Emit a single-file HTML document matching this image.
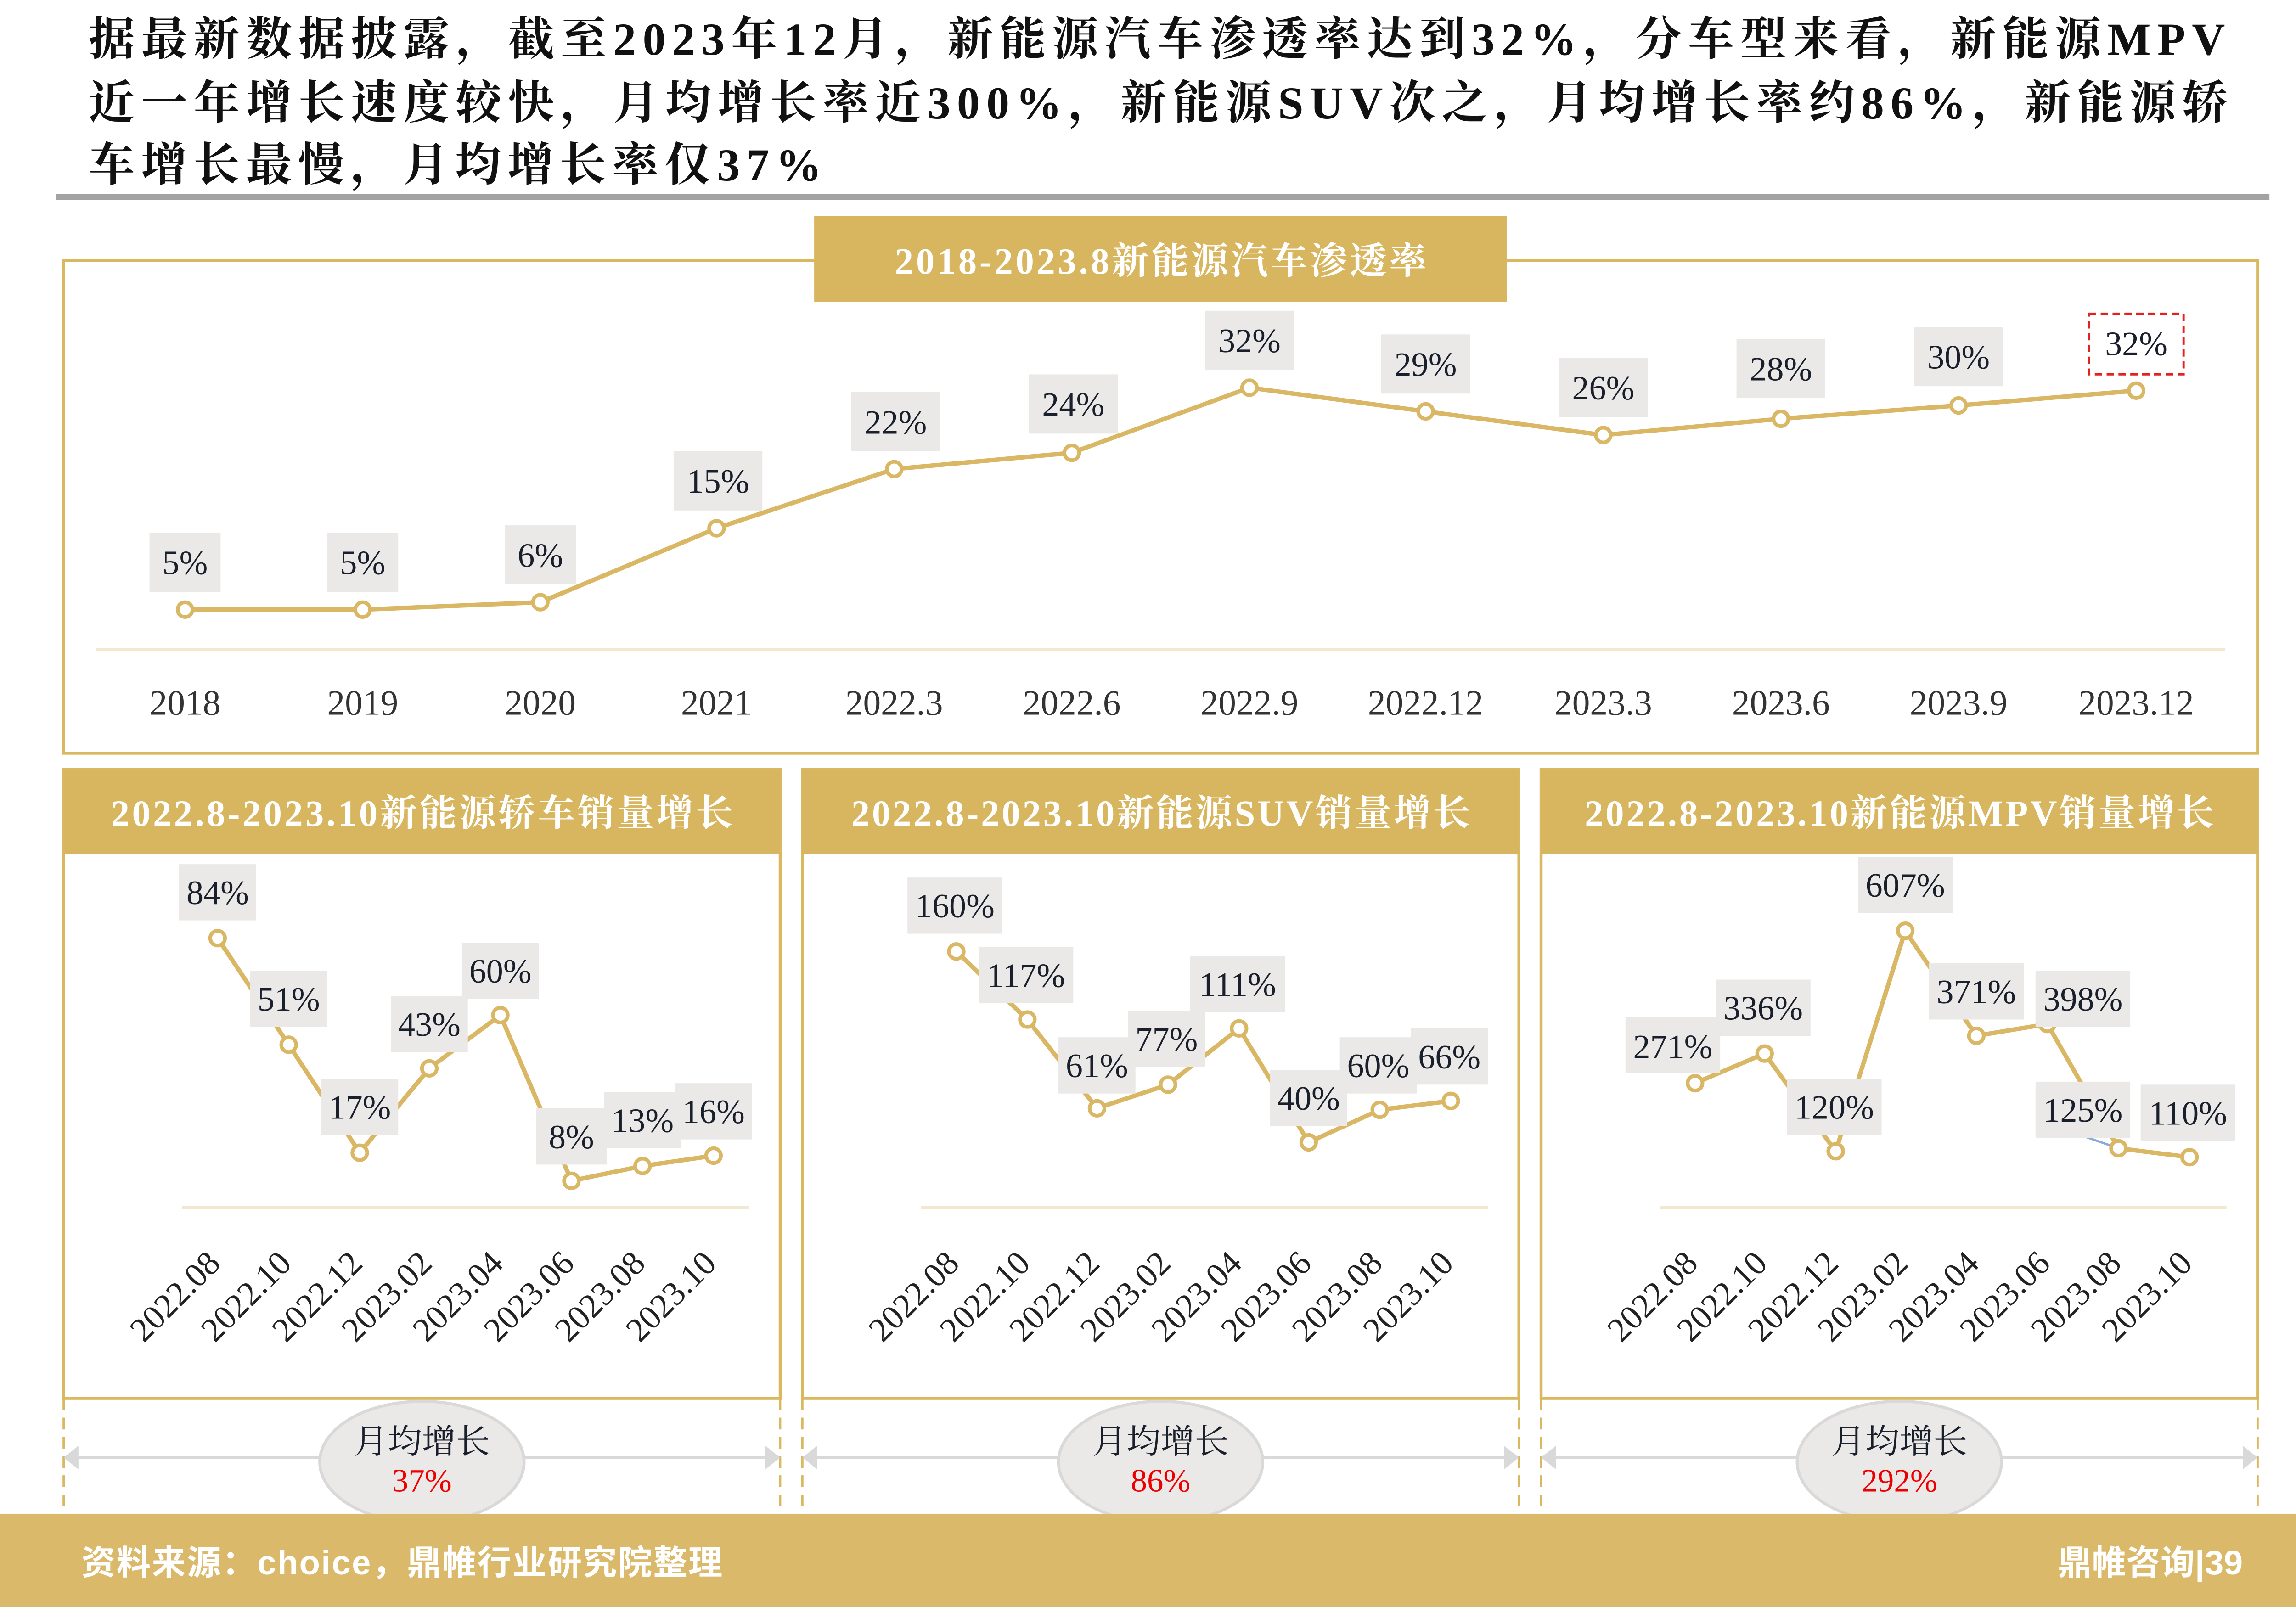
<!DOCTYPE html>
<html><head><meta charset="utf-8"><style>
html,body{margin:0;padding:0;background:#fff}
svg{display:block}
.s{font-family:"Liberation Serif","Noto Serif CJK SC",serif}
.h{font-family:"Liberation Serif","Noto Serif CJK SC",serif;fill:#fff;font-size:25px;font-weight:bold;text-anchor:middle}
.lb{font-family:"Liberation Serif","Noto Serif CJK SC",serif;fill:#1a1f2c;font-size:23px;text-anchor:middle}
.xl{font-family:"Liberation Serif","Noto Serif CJK SC",serif;fill:#333;font-size:24px;text-anchor:middle}
.rx{font-family:"Liberation Serif","Noto Serif CJK SC",serif;fill:#222;font-size:23px;text-anchor:end}
</style></head><body>
<svg width="5055" height="3500" viewBox="0 0 1568 1086" preserveAspectRatio="none" xmlns="http://www.w3.org/2000/svg">
<rect width="1568" height="1086" fill="#fff"/>
<g class="s" font-size="31" font-weight="bold" fill="#111">
<text x="60" y="37" textLength="1443" lengthAdjust="spacing">据最新数据披露，截至2023年12月，新能源汽车渗透率达到32%，分车型来看，新能源MPV</text>
<text x="60" y="80" textLength="1445" lengthAdjust="spacing">近一年增长速度较快，月均增长率近300%，新能源SUV次之，月均增长率约86%，新能源轿</text>
<text x="60" y="122" textLength="495" lengthAdjust="spacing">车增长最慢，月均增长率仅37%</text>
</g>
<rect x="38" y="131" width="1495" height="4" fill="#a3a3a3"/>

<!-- top panel -->
<rect x="43" y="176" width="1482" height="333" fill="none" stroke="#d9b860" stroke-width="2"/>
<rect x="550" y="146" width="468" height="58" fill="#d8b65f"/>
<text class="h" x="784" y="185" textLength="359" lengthAdjust="spacing">2018-2023.8新能源汽车渗透率</text>
<line x1="65" y1="439" x2="1503" y2="439" stroke="#f1e8cf" stroke-width="2"/>
<polyline fill="none" stroke="#d9b765" stroke-width="3" points="125,412 245,412 365,407 484,357 604,317 724,306 844,262 963,278 1083,294 1203,283 1323,274 1443,264"/>
<g fill="#fff" stroke="#d9b765" stroke-width="2.5">
<circle cx="125" cy="412" r="5"/><circle cx="245" cy="412" r="5"/><circle cx="365" cy="407" r="5"/><circle cx="484" cy="357" r="5"/><circle cx="604" cy="317" r="5"/><circle cx="724" cy="306" r="5"/><circle cx="844" cy="262" r="5"/><circle cx="963" cy="278" r="5"/><circle cx="1083" cy="294" r="5"/><circle cx="1203" cy="283" r="5"/><circle cx="1323" cy="274" r="5"/><circle cx="1443" cy="264" r="5"/>
</g>
<g fill="#ebe9e7">
<rect x="101" y="360" width="48" height="40"/><rect x="221" y="360" width="48" height="40"/><rect x="341" y="355" width="48" height="40"/><rect x="455" y="305" width="60" height="40"/><rect x="575" y="265" width="60" height="40"/><rect x="695" y="253" width="60" height="40"/><rect x="814" y="210" width="60" height="40"/><rect x="933" y="226" width="60" height="40"/><rect x="1053" y="242" width="60" height="40"/><rect x="1173" y="229" width="60" height="40"/><rect x="1293" y="221" width="60" height="40"/>
</g>
<rect x="1411" y="212" width="64" height="41" fill="none" stroke="#e52020" stroke-width="1.5" stroke-dasharray="5,3"/>
<text class="lb" x="125" y="388">5%</text><text class="lb" x="245" y="388">5%</text><text class="lb" x="365" y="383">6%</text><text class="lb" x="485" y="333">15%</text><text class="lb" x="605" y="293">22%</text><text class="lb" x="725" y="281">24%</text><text class="lb" x="844" y="238">32%</text><text class="lb" x="963" y="254">29%</text><text class="lb" x="1083" y="270">26%</text><text class="lb" x="1203" y="257">28%</text><text class="lb" x="1323" y="249">30%</text><text class="lb" x="1443" y="240">32%</text>
<g class="xl"><text x="125" y="483">2018</text><text x="245" y="483">2019</text><text x="365" y="483">2020</text><text x="484" y="483">2021</text><text x="604" y="483">2022.3</text><text x="724" y="483">2022.6</text><text x="844" y="483">2022.9</text><text x="963" y="483">2022.12</text><text x="1083" y="483">2023.3</text><text x="1203" y="483">2023.6</text><text x="1323" y="483">2023.9</text><text x="1443" y="483">2023.12</text></g>

<!-- bottom panels frames -->
<g fill="none" stroke="#d9b860" stroke-width="2">
<rect x="43" y="520" width="484" height="425"/><rect x="542" y="520" width="484" height="425"/><rect x="1041" y="520" width="484" height="425"/>
</g>
<g stroke="#d9b860" stroke-width="1.5" stroke-dasharray="8,5">
<line x1="43" y1="945" x2="43" y2="1023"/><line x1="527" y1="945" x2="527" y2="1023"/><line x1="542" y1="945" x2="542" y2="1023"/><line x1="1026" y1="945" x2="1026" y2="1023"/><line x1="1041" y1="945" x2="1041" y2="1023"/><line x1="1525" y1="945" x2="1525" y2="1023"/>
</g>
<g fill="#d8b65f"><rect x="43" y="520" width="484" height="57"/><rect x="542" y="520" width="484" height="57"/><rect x="1041" y="520" width="484" height="57"/></g>
<text class="h" x="285" y="558" textLength="420" lengthAdjust="spacing">2022.8-2023.10新能源轿车销量增长</text>
<text class="h" x="784" y="558" textLength="418" lengthAdjust="spacing">2022.8-2023.10新能源SUV销量增长</text>
<text class="h" x="1283" y="558" textLength="425" lengthAdjust="spacing">2022.8-2023.10新能源MPV销量增长</text>
<g stroke="#f1e8cf" stroke-width="2"><line x1="123" y1="816" x2="506" y2="816"/><line x1="622" y1="816" x2="1005" y2="816"/><line x1="1121" y1="816" x2="1504" y2="816"/></g>

<!-- panel 1 -->
<polyline fill="none" stroke="#d9b765" stroke-width="3" points="147,634 195,706 243,779 290,722 338,686 386,798 434,788 482,781"/>
<g fill="#fff" stroke="#d9b765" stroke-width="2.5"><circle cx="147" cy="634" r="5"/><circle cx="195" cy="706" r="5"/><circle cx="243" cy="779" r="5"/><circle cx="290" cy="722" r="5"/><circle cx="338" cy="686" r="5"/><circle cx="386" cy="798" r="5"/><circle cx="434" cy="788" r="5"/><circle cx="482" cy="781" r="5"/></g>
<g fill="#ebe9e7"><rect x="121" y="584" width="52" height="38"/><rect x="169" y="656" width="52" height="38"/><rect x="217" y="729" width="52" height="38"/><rect x="264" y="673" width="52" height="38"/><rect x="312" y="637" width="52" height="38"/><rect x="362" y="749" width="48" height="38"/><rect x="408" y="738" width="52" height="38"/><rect x="456" y="732" width="52" height="38"/></g>
<text class="lb" x="147" y="611">84%</text><text class="lb" x="195" y="683">51%</text><text class="lb" x="243" y="756">17%</text><text class="lb" x="290" y="700">43%</text><text class="lb" x="338" y="664">60%</text><text class="lb" x="386" y="776">8%</text><text class="lb" x="434" y="765">13%</text><text class="lb" x="482" y="759">16%</text>
<!-- panel 2 -->
<polyline fill="none" stroke="#d9b765" stroke-width="3" points="646,643 694,689 741,749 789,733 837,695 884,772 932,750 980,744"/>
<g fill="#fff" stroke="#d9b765" stroke-width="2.5"><circle cx="646" cy="643" r="5"/><circle cx="694" cy="689" r="5"/><circle cx="741" cy="749" r="5"/><circle cx="789" cy="733" r="5"/><circle cx="837" cy="695" r="5"/><circle cx="884" cy="772" r="5"/><circle cx="932" cy="750" r="5"/><circle cx="980" cy="744" r="5"/></g>
<g fill="#ebe9e7"><rect x="613" y="593" width="64" height="38"/><rect x="661" y="640" width="64" height="38"/><rect x="715" y="701" width="52" height="38"/><rect x="762" y="683" width="52" height="38"/><rect x="804" y="646" width="64" height="38"/><rect x="858" y="723" width="52" height="38"/><rect x="905" y="701" width="52" height="38"/><rect x="953" y="695" width="52" height="38"/></g>
<text class="lb" x="645" y="620">160%</text><text class="lb" x="693" y="667">117%</text><text class="lb" x="741" y="728">61%</text><text class="lb" x="788" y="710">77%</text><text class="lb" x="836" y="673">111%</text><text class="lb" x="884" y="750">40%</text><text class="lb" x="931" y="728">60%</text><text class="lb" x="979" y="722">66%</text>
<!-- panel 3 -->
<line x1="1408" y1="768" x2="1431" y2="776" stroke="#8aa8d8" stroke-width="1.5"/>
<polyline fill="none" stroke="#d9b765" stroke-width="3" points="1145,732 1192,712 1240,778 1287,629 1335,700 1383,692 1431,776 1479,782"/>
<g fill="#fff" stroke="#d9b765" stroke-width="2.5"><circle cx="1145" cy="732" r="5"/><circle cx="1192" cy="712" r="5"/><circle cx="1240" cy="778" r="5"/><circle cx="1287" cy="629" r="5"/><circle cx="1335" cy="700" r="5"/><circle cx="1383" cy="692" r="5"/><circle cx="1431" cy="776" r="5"/><circle cx="1479" cy="782" r="5"/></g>
<g fill="#ebe9e7"><rect x="1098" y="687" width="64" height="38"/><rect x="1159" y="662" width="64" height="38"/><rect x="1207" y="729" width="64" height="38"/><rect x="1255" y="579" width="64" height="38"/><rect x="1303" y="651" width="64" height="38"/><rect x="1375" y="656" width="64" height="38"/><rect x="1375" y="731" width="64" height="38"/><rect x="1446" y="733" width="64" height="38"/></g>
<text class="lb" x="1130" y="715">271%</text><text class="lb" x="1191" y="689">336%</text><text class="lb" x="1239" y="756">120%</text><text class="lb" x="1287" y="606">607%</text><text class="lb" x="1335" y="678">371%</text><text class="lb" x="1407" y="683">398%</text><text class="lb" x="1407" y="758">125%</text><text class="lb" x="1478" y="760">110%</text>

<!-- rotated x labels -->
<g class="rx">
<text transform="translate(150,855) rotate(-45)">2022.08</text><text transform="translate(198,855) rotate(-45)">2022.10</text><text transform="translate(246,855) rotate(-45)">2022.12</text><text transform="translate(293,855) rotate(-45)">2023.02</text><text transform="translate(341,855) rotate(-45)">2023.04</text><text transform="translate(389,855) rotate(-45)">2023.06</text><text transform="translate(437,855) rotate(-45)">2023.08</text><text transform="translate(485,855) rotate(-45)">2023.10</text>
<text transform="translate(649,855) rotate(-45)">2022.08</text><text transform="translate(697,855) rotate(-45)">2022.10</text><text transform="translate(744,855) rotate(-45)">2022.12</text><text transform="translate(792,855) rotate(-45)">2023.02</text><text transform="translate(840,855) rotate(-45)">2023.04</text><text transform="translate(887,855) rotate(-45)">2023.06</text><text transform="translate(935,855) rotate(-45)">2023.08</text><text transform="translate(983,855) rotate(-45)">2023.10</text>
<text transform="translate(1148,855) rotate(-45)">2022.08</text><text transform="translate(1195,855) rotate(-45)">2022.10</text><text transform="translate(1243,855) rotate(-45)">2022.12</text><text transform="translate(1290,855) rotate(-45)">2023.02</text><text transform="translate(1338,855) rotate(-45)">2023.04</text><text transform="translate(1386,855) rotate(-45)">2023.06</text><text transform="translate(1434,855) rotate(-45)">2023.08</text><text transform="translate(1482,855) rotate(-45)">2023.10</text>
</g>

<!-- arrows + ellipses -->
<g stroke="#d9d9d9" stroke-width="2"><line x1="48" y1="985" x2="522" y2="985"/><line x1="547" y1="985" x2="1021" y2="985"/><line x1="1046" y1="985" x2="1520" y2="985"/></g>
<g fill="#d9d9d9"><polygon points="43,985 53,977 53,993"/><polygon points="527,985 517,977 517,993"/><polygon points="542,985 552,977 552,993"/><polygon points="1026,985 1016,977 1016,993"/><polygon points="1041,985 1051,977 1051,993"/><polygon points="1525,985 1515,977 1515,993"/></g>
<g fill="#ebe9e7" stroke="#d9d9d9" stroke-width="2"><ellipse cx="285" cy="988" rx="69" ry="41"/><ellipse cx="784" cy="988" rx="69" ry="41"/><ellipse cx="1283" cy="988" rx="69" ry="41"/></g>
<g class="s" font-size="23" text-anchor="middle" fill="#1a1f2c"><text x="285" y="982">月均增长</text><text x="784" y="982">月均增长</text><text x="1283" y="982">月均增长</text></g>
<g class="s" font-size="22" text-anchor="middle" fill="#ee0000"><text x="285" y="1008">37%</text><text x="784" y="1008">86%</text><text x="1283" y="1008">292%</text></g>

<!-- footer -->
<rect x="0" y="1023" width="1568" height="63" fill="#dbb96a"/>
<text x="55" y="1064" textLength="433" lengthAdjust="spacing" font-family="'Liberation Sans','Noto Sans CJK SC',sans-serif" font-size="23" font-weight="bold" fill="#fff">资料来源：choice，鼎帷行业研究院整理</text>
<text x="1390" y="1064" textLength="125" lengthAdjust="spacing" font-family="'Liberation Sans','Noto Sans CJK SC',sans-serif" font-size="23" font-weight="bold" fill="#fff">鼎帷咨询|39</text>
</svg>
</body></html>
